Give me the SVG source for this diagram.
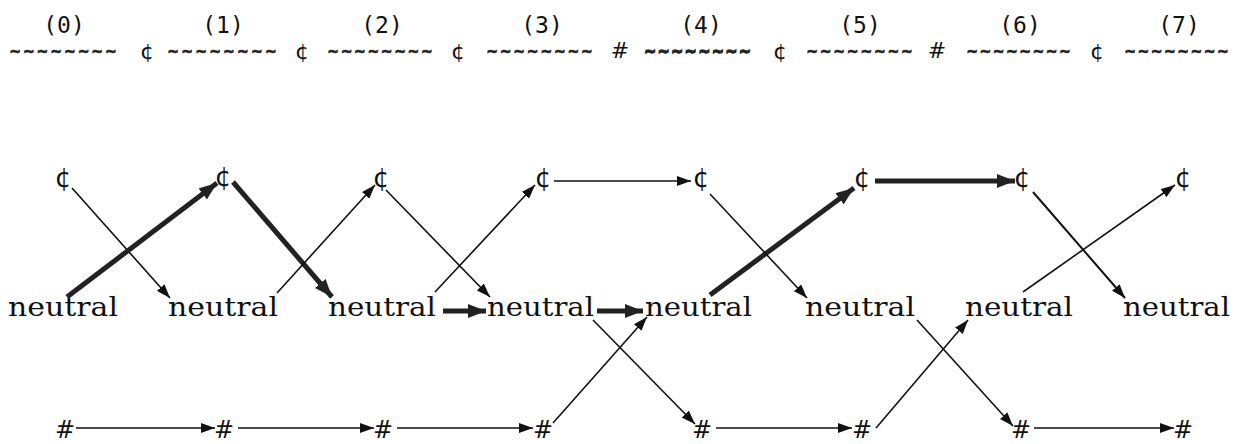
<svg xmlns="http://www.w3.org/2000/svg" width="1248" height="444" viewBox="0 0 1248 444">
<style>
.lbl{font-family:"DejaVu Sans Mono",monospace;font-size:23px;fill:#111;text-anchor:middle}
.tl{font-family:"DejaVu Sans Mono",monospace;font-size:17px;font-weight:bold;fill:#222;stroke:#222;stroke-width:0.6}
.sep{font-family:"DejaVu Sans",sans-serif;font-size:22px;fill:#111;text-anchor:middle}
.cent{font-family:"DejaVu Sans",sans-serif;font-size:26px;fill:#111;text-anchor:middle}
.hash{font-family:"DejaVu Sans",sans-serif;font-size:24px;fill:#111;text-anchor:middle}
.neu{font-family:"DejaVu Serif",serif;font-size:26px;fill:#111}
.thin{stroke:#111;stroke-width:1.6;fill:none;marker-end:url(#ah)}
.thick{stroke:#222;stroke-width:5;fill:none;marker-end:url(#ahb)}
</style>
<defs>
<marker id="ah" markerUnits="userSpaceOnUse" markerWidth="14" markerHeight="10" refX="14" refY="5" orient="auto"><path d="M0,0 L14,5 L0,10 Z" fill="#111"/></marker>
<marker id="ahb" markerUnits="userSpaceOnUse" markerWidth="18" markerHeight="14" refX="18" refY="7" orient="auto"><path d="M0,0 L18,7 L0,14 Z" fill="#222"/></marker>
</defs>
<rect width="1248" height="444" fill="#fff"/>
<g id="header">
<text class="lbl" x="64" y="33">(0)</text>
<text class="lbl" x="223" y="33">(1)</text>
<text class="lbl" x="382" y="33">(2)</text>
<text class="lbl" x="542" y="33">(3)</text>
<text class="lbl" x="701" y="33">(4)</text>
<text class="lbl" x="860" y="33">(5)</text>
<text class="lbl" x="1020" y="33">(6)</text>
<text class="lbl" x="1179" y="33">(7)</text>
<text class="tl" x="10" y="57" textLength="106">~~~~~~~~</text>
<text class="tl" x="168" y="57" textLength="108">~~~~~~~~</text>
<text class="tl" x="328" y="57" textLength="104">~~~~~~~~</text>
<text class="tl" x="487" y="57" textLength="105">~~~~~~~~</text>
<text class="tl" x="645" y="57" textLength="105" style="stroke-width:1.3">~~~~~~~~</text>
<text class="tl" x="807" y="57" textLength="105">~~~~~~~~</text>
<text class="tl" x="967" y="57" textLength="103">~~~~~~~~</text>
<text class="tl" x="1125" y="57" textLength="103">~~~~~~~~</text>
<text class="sep" x="147" y="59">¢</text>
<text class="sep" x="302" y="59">¢</text>
<text class="sep" x="458" y="59">¢</text>
<text class="sep" x="620" y="58">#</text>
<text class="sep" x="780" y="59">¢</text>
<text class="sep" x="937" y="58">#</text>
<text class="sep" x="1097" y="59">¢</text>
</g>
<g id="cent-row">
<g id="c0"><text class="cent" x="63" y="187">¢</text></g>
<g id="c1"><text class="cent" x="223" y="186">¢</text></g>
<g id="c2"><text class="cent" x="381" y="187">¢</text></g>
<g id="c3"><text class="cent" x="543" y="187">¢</text></g>
<g id="c4"><text class="cent" x="701" y="187">¢</text></g>
<g id="c5"><text class="cent" x="862" y="187">¢</text></g>
<g id="c6"><text class="cent" x="1022" y="187">¢</text></g>
<g id="c7"><text class="cent" x="1183" y="187">¢</text></g>
</g>
<g id="neutral-row">
<g id="n0"><text class="neu" x="8" y="316" textLength="110" lengthAdjust="spacingAndGlyphs">neutral</text></g>
<g id="n1"><text class="neu" x="168" y="316" textLength="110" lengthAdjust="spacingAndGlyphs">neutral</text></g>
<g id="n2"><text class="neu" x="328" y="316" textLength="108" lengthAdjust="spacingAndGlyphs">neutral</text></g>
<g id="n3"><text class="neu" x="487" y="316" textLength="107" lengthAdjust="spacingAndGlyphs">neutral</text></g>
<g id="n4"><text class="neu" x="645" y="316" textLength="107" lengthAdjust="spacingAndGlyphs">neutral</text></g>
<g id="n5"><text class="neu" x="805" y="316" textLength="110" lengthAdjust="spacingAndGlyphs">neutral</text></g>
<g id="n6"><text class="neu" x="965" y="316" textLength="108" lengthAdjust="spacingAndGlyphs">neutral</text></g>
<g id="n7"><text class="neu" x="1123" y="316" textLength="107" lengthAdjust="spacingAndGlyphs">neutral</text></g>
</g>
<g id="hash-row">
<g id="h0"><text class="hash" x="65" y="438">#</text></g>
<g id="h1"><text class="hash" x="224" y="438">#</text></g>
<g id="h2"><text class="hash" x="383" y="438">#</text></g>
<g id="h3"><text class="hash" x="543" y="438">#</text></g>
<g id="h4"><text class="hash" x="702" y="438">#</text></g>
<g id="h5"><text class="hash" x="862" y="438">#</text></g>
<g id="h6"><text class="hash" x="1021" y="438">#</text></g>
<g id="h7"><text class="hash" x="1183" y="438">#</text></g>
</g>
<g id="connectors">
<line class="thin" x1="72" y1="188" x2="170" y2="298"/>
<line class="thick" x1="67" y1="297" x2="217" y2="183"/>
<line class="thin" x1="76" y1="428" x2="215" y2="428"/>
<line class="thick" x1="233" y1="182" x2="332" y2="297"/>
<line class="thin" x1="277" y1="293" x2="375" y2="185"/>
<line class="thin" x1="238" y1="428" x2="374" y2="428"/>
<line class="thin" x1="386" y1="190" x2="490" y2="297"/>
<line class="thick" x1="443" y1="311" x2="486" y2="311"/>
<line class="thin" x1="435" y1="292" x2="535" y2="185"/>
<line class="thin" x1="397" y1="428" x2="533" y2="428"/>
<line class="thin" x1="554" y1="181" x2="691" y2="181"/>
<line class="thick" x1="597" y1="311" x2="643" y2="311"/>
<line class="thin" x1="593" y1="320" x2="695" y2="424"/>
<line class="thin" x1="553" y1="423" x2="647" y2="317"/>
<line class="thick" x1="710" y1="295" x2="854" y2="188"/>
<line class="thin" x1="710" y1="194" x2="807" y2="298"/>
<line class="thin" x1="716" y1="428" x2="852" y2="428"/>
<line class="thick" x1="875" y1="181" x2="1015" y2="181"/>
<line class="thin" x1="917" y1="320" x2="1013" y2="426"/>
<line class="thin" x1="876" y1="428" x2="968" y2="320"/>
<line class="thin" x1="1034" y1="428" x2="1174" y2="428"/>
<line class="thin" x1="1033" y1="192" x2="1125" y2="298" style="stroke-width:2"/>
<line class="thin" x1="1023" y1="292" x2="1175" y2="185"/>
</g>
</svg>
